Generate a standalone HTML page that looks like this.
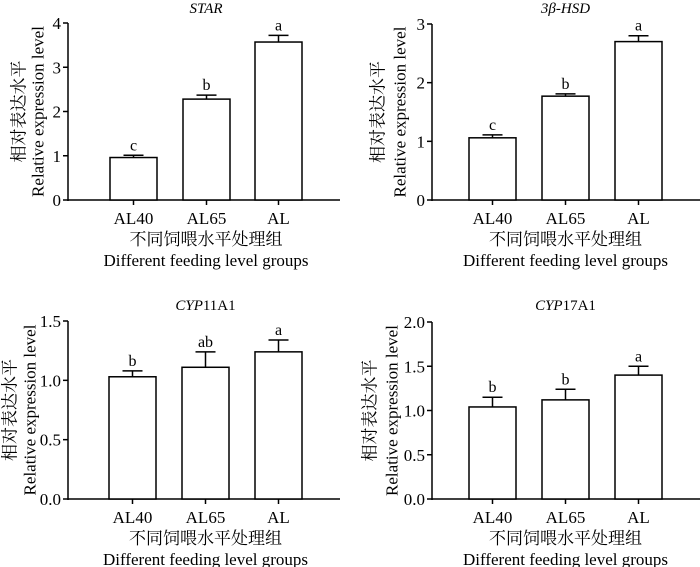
<!DOCTYPE html>
<html><head><meta charset="utf-8"><style>
html,body{margin:0;padding:0;background:#fff;}
svg{display:block;font-family:"Liberation Serif","Times New Roman","Noto Serif CJK SC",serif;}
svg text{font-family:"Liberation Serif","Times New Roman","Noto Serif CJK SC",serif !important;fill:#000;}
</style></head><body>
<svg id="c" width="700" height="567" font-family="Liberation Serif, Noto Serif CJK SC, serif"></svg>
<script>
const categories = ["AL40","AL65","AL"];
const starValues = [0.96, 2.28, 3.57];
const starErrors = [0.05, 0.09, 0.15];
const starLetters = ["c","b","a"];
const hsdValues = [1.06, 1.77, 2.70];
const hsdErrors = [0.05, 0.04, 0.10];
const hsdLetters = ["c","b","a"];
const cyp11Values = [1.03, 1.11, 1.24];
const cyp11Errors = [0.05, 0.13, 0.10];
const cyp11Letters = ["b","ab","a"];
const cyp17Values = [1.04, 1.12, 1.40];
const cyp17Errors = [0.11, 0.12, 0.10];
const cyp17Letters = ["b","b","a"];
const starTicks = [0,1,2,3,4];
const hsdTicks = [0,1,2,3];
const cypTicks11 = ["0.0","0.5","1.0","1.5"];
const cypTicks17 = ["0.0","0.5","1.0","1.5","2.0"];

const svg = document.getElementById('c');
const NS = 'http://www.w3.org/2000/svg';
const FF = '"Liberation Serif","Noto Serif CJK SC",serif';
function mk(tag, attrs, parent){const e=document.createElementNS(NS,tag);for(const k in attrs)e.setAttribute(k,attrs[k]);if(tag==='text')e.style.fontFamily=FF;(parent||svg).appendChild(e);return e;}

const panels = [
 {id:'star', title:'<tspan font-style="italic">STAR</tspan>', ax:68, x1:340, y0:200, yt:23, ymax:4, ticks:starTicks, vals:starValues, errs:starErrors, lets:starLetters, bx:[110,183,255], cn:19, en:38, ty:13},
 {id:'hsd', title:'<tspan font-style="italic">3β-HSD</tspan>', ax:432, x1:700, y0:200, yt:24, ymax:3, ticks:hsdTicks, vals:hsdValues, errs:hsdErrors, lets:hsdLetters, bx:[469,542,615], cn:378, en:400, ty:13},
 {id:'cyp11a1', title:'<tspan font-style="italic">CYP</tspan>11A1', ax:68, x1:340, y0:499, yt:321, ymax:1.5, ticks:cypTicks11, vals:cyp11Values, errs:cyp11Errors, lets:cyp11Letters, bx:[109,182,255], cn:10, en:30, ty:310},
 {id:'cyp17a1', title:'<tspan font-style="italic">CYP</tspan>17A1', ax:432, x1:700, y0:499, yt:322, ymax:2.0, ticks:cypTicks17, vals:cyp17Values, errs:cyp17Errors, lets:cyp17Letters, bx:[469,542,615], cn:370, en:392, ty:310}
];
const BW=47;
panels.forEach(p=>{
  const g=mk('g',{});
  
  
  const y=v=>p.y0-(v/p.ymax)*(p.y0-p.yt);
  const t=mk('text',{x:(p.bx[0]+p.bx[2]+BW)/2,y:p.ty,'text-anchor':'middle','font-size':15},g);
  t.innerHTML=p.title;
  
  
  const ya=mk('line',{x1:p.ax,x2:p.ax,y1:p.yt,y2:p.y0+1,stroke:'#000','stroke-width':1.5},g);
  
  
  const xa=mk('line',{x1:p.ax,x2:p.x1,y1:p.y0,y2:p.y0,stroke:'#000','stroke-width':1.5},g);
  
  
  p.ticks.forEach(tk=>{
    const v=parseFloat(tk), yy=y(v);
    mk('line',{x1:p.ax-5,x2:p.ax,y1:yy,y2:yy,stroke:'#000','stroke-width':1.5},g);
    const l=mk('text',{x:p.ax-7,y:yy+6,'text-anchor':'end','font-size':17},g);
    l.textContent=tk;
    
    
  });
  categories.forEach((c,i)=>{
    const x=p.bx[i], cx=x+BW/2, top=y(p.vals[i]), et=y(p.vals[i]+p.errs[i]);
    const b=mk('rect',{x:x,y:top,width:BW,height:p.y0-top,fill:'#fff',stroke:'#000','stroke-width':1.5},g);
    
    
    const e=mk('path',{d:`M${cx},${top}V${et}M${cx-10},${et}H${cx+10}`,stroke:'#000','stroke-width':1.5,fill:'none'},g);
    
    
    const lt=mk('text',{x:cx,y:et-5,'text-anchor':'middle','font-size':16},g);
    lt.textContent=p.lets[i];
    
    
    mk('line',{x1:cx,x2:cx,y1:p.y0,y2:p.y0+5,stroke:'#000','stroke-width':1.5},g);
    const xl=mk('text',{x:cx,y:p.y0+24,'text-anchor':'middle','font-size':17},g);
    xl.textContent=c;
    
    
  });
  const mid=(p.bx[0]+p.bx[2]+BW)/2;
  const x1=mk('text',{x:mid,y:p.y0+45,'text-anchor':'middle','font-size':17},g);
  x1.textContent='不同饲喂水平处理组';
  
  
  const x2=mk('text',{x:mid,y:p.y0+66,'text-anchor':'middle','font-size':17},g);
  x2.textContent='Different feeding level groups';
  
  
  const ym=(p.y0+p.yt)/2;
  const y1=mk('text',{x:p.cn,y:ym,'text-anchor':'middle','font-size':17,'dominant-baseline':'central',transform:`rotate(-90 ${p.cn} ${ym})`},g);
  y1.textContent='相对表达水平';
  
  
  const y2=mk('text',{x:p.en,y:ym,'text-anchor':'middle','font-size':17,'dominant-baseline':'central',transform:`rotate(-90 ${p.en} ${ym})`},g);
  y2.textContent='Relative expression level';
  
  
});
</script>
</body></html>
